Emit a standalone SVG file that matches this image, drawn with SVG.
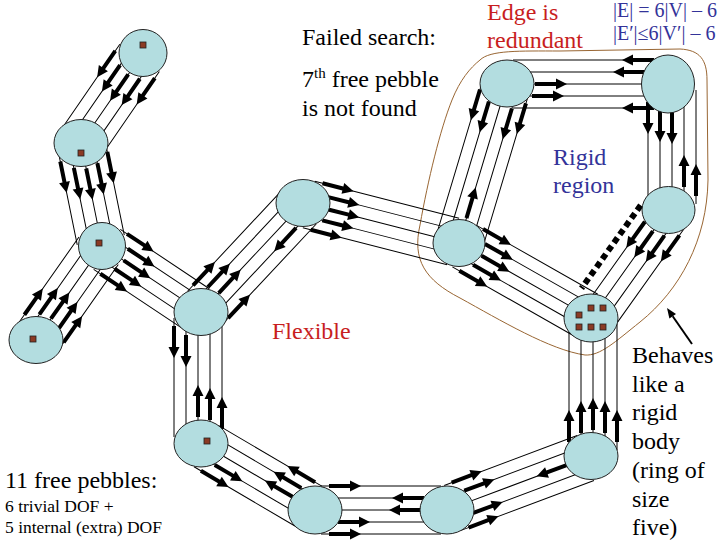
<svg xmlns="http://www.w3.org/2000/svg" xmlns:xlink="http://www.w3.org/1999/xlink" width="720" height="540" viewBox="0 0 720 540">
<style>
.ln{stroke:#000;stroke-width:1;fill:none}
.nd{fill:#B3DDE0;stroke:#222;stroke-width:1}
.pb{fill:#8B3A24;stroke:#222;stroke-width:0.8}
.t{font-family:"Liberation Serif","Times New Roman",serif;font-size:24px;fill:#000}
.red{fill:#C81E1E}
.blue{fill:#333399}
.eq{font-family:"Liberation Serif","Times New Roman",serif;font-size:20px;fill:#333399}
.sm{font-family:"Liberation Serif","Times New Roman",serif;font-size:17.5px;fill:#000}
.dot{stroke:#000;stroke-width:6;stroke-dasharray:6 4;fill:none}
</style>
<defs>
<path id="ar" d="M0,-2H21V-5.5L32,0L21,5.5V2H0Z" fill="#000"/>
</defs>
<path id="rigid-outline" d="M480,60 C490,50 520,51 560,51 L680,49 C700,50 707,60 707,80 L708,180 C707,240 680,290 640,322 C615,342 600,356 585,355 C550,350 500,320 460,298 C425,280 412,260 420,225 C428,180 440,130 452,100 C460,80 470,68 480,60 Z" fill="none" stroke="#996633" stroke-width="1"/>
<g id="connectors">
<g id="b1" transform="translate(143,53) rotate(124.56)">
<path class="ln" d="M6,-24H103M6,-12H103M6,0H103M6,12H103M6,24H103"/>
<use xlink:href="#ar" transform="translate(14,-24)"/><use xlink:href="#ar" transform="translate(23,-12)"/><use xlink:href="#ar" transform="translate(26,0)"/><use xlink:href="#ar" transform="translate(23,12)"/><use xlink:href="#ar" transform="translate(14,24)"/>
</g>
<g id="b2" transform="translate(81,143) rotate(78.48)">
<path class="ln" d="M6,-24H99M6,-12H99M6,0H99M6,12H99M6,24H99"/>
<use xlink:href="#ar" transform="translate(14,-24)"/><use xlink:href="#ar" transform="translate(23,-12)"/><use xlink:href="#ar" transform="translate(26,0)"/><use xlink:href="#ar" transform="translate(23,12)"/><use xlink:href="#ar" transform="translate(14,24)"/>
</g>
<g id="b3" transform="translate(36,340) rotate(-54.93)">
<path class="ln" d="M6,-24H109M6,-12H109M6,0H109M6,12H109M6,24H109"/>
<use xlink:href="#ar" transform="translate(14,-24)"/><use xlink:href="#ar" transform="translate(23,-12)"/><use xlink:href="#ar" transform="translate(26,0)"/><use xlink:href="#ar" transform="translate(23,12)"/><use xlink:href="#ar" transform="translate(14,24)"/>
</g>
<g id="b4" transform="translate(102,246) rotate(33.69)">
<path class="ln" d="M6,-24H113M6,-12H113M6,0H113M6,12H113M6,24H113"/>
<use xlink:href="#ar" transform="translate(14,-24)"/><use xlink:href="#ar" transform="translate(23,-12)"/><use xlink:href="#ar" transform="translate(26,0)"/><use xlink:href="#ar" transform="translate(23,12)"/><use xlink:href="#ar" transform="translate(14,24)"/>
</g>
<g id="b5" transform="translate(201,312) rotate(-46.9)">
<path class="ln" d="M6,-24H143M6,-12H143M6,0H143M6,12H143M6,24H143"/>
<use xlink:href="#ar" transform="translate(14,-24)"/><use xlink:href="#ar" transform="translate(23,-12)"/><use xlink:href="#ar" transform="translate(26,0)"/><use xlink:href="#ar" transform="translate(126.3,12) rotate(180)"/><use xlink:href="#ar" transform="translate(14,24)"/>
</g>
<g id="b6" transform="translate(303,203) rotate(14.38)">
<path class="ln" d="M6,-24H155M6,-12H155M6,0H155M6,12H155M6,24H155"/>
<use xlink:href="#ar" transform="translate(14,-24)"/><use xlink:href="#ar" transform="translate(23,-12)"/><use xlink:href="#ar" transform="translate(26,0)"/><use xlink:href="#ar" transform="translate(23,12)"/><use xlink:href="#ar" transform="translate(14,24)"/>
</g>
<g id="b7" transform="translate(507,83) rotate(106.7)">
<path class="ln" d="M6,-24H161M6,-12H161M6,0H161M6,12H161M6,24H161"/>
<use xlink:href="#ar" transform="translate(14,-24)"/><use xlink:href="#ar" transform="translate(23,-12)"/><use xlink:href="#ar" transform="translate(141,0) rotate(180)"/><use xlink:href="#ar" transform="translate(23,12)"/><use xlink:href="#ar" transform="translate(14,24)"/>
</g>
<g id="b8" transform="translate(507,84)">
<path class="ln" d="M6,-24H155M6,-12H155M6,0H155M6,12H155M6,24H155"/>
<use xlink:href="#ar" transform="translate(147,-24) rotate(180)"/><use xlink:href="#ar" transform="translate(138,-12) rotate(180)"/><use xlink:href="#ar" transform="translate(28,0)"/><use xlink:href="#ar" transform="translate(25,12)"/><use xlink:href="#ar" transform="translate(147,24) rotate(180)"/>
</g>
<g id="b9" transform="translate(672,84) rotate(90)">
<path class="ln" d="M6,-24H120M6,-12H120M6,0H120M6,12H120M6,24H120"/>
<use xlink:href="#ar" transform="translate(112,-24) rotate(180)"/><use xlink:href="#ar" transform="translate(103,-12) rotate(180)"/><use xlink:href="#ar" transform="translate(28,0)"/><use xlink:href="#ar" transform="translate(26,12)"/><use xlink:href="#ar" transform="translate(18,24)"/>
</g>
<g id="b10" transform="translate(668,210) rotate(125.48)">
<path class="ln" d="M6,-24H127M6,-12H127M6,0H127M6,12H127"/>
<path class="dot" d="M12,25H114"/>
<use xlink:href="#ar" transform="translate(14,-24)"/><use xlink:href="#ar" transform="translate(23,-12)"/><use xlink:href="#ar" transform="translate(26,0)"/><use xlink:href="#ar" transform="translate(23,12)"/>
</g>
<g id="b11" transform="translate(459,243) rotate(29.6)">
<path class="ln" d="M6,-24H146M6,-12H146M6,0H146M6,12H146M6,24H146"/>
<use xlink:href="#ar" transform="translate(14,-24)"/><use xlink:href="#ar" transform="translate(23,-12)"/><use xlink:href="#ar" transform="translate(26,0)"/><use xlink:href="#ar" transform="translate(23,12)"/><use xlink:href="#ar" transform="translate(14,24)"/>
</g>
<g id="b12" transform="translate(593,456) rotate(-90)">
<path class="ln" d="M6,-24H132M6,-12H132M6,0H132M6,12H132M6,24H132"/>
<use xlink:href="#ar" transform="translate(14,-24)"/><use xlink:href="#ar" transform="translate(23,-12)"/><use xlink:href="#ar" transform="translate(26,0)"/><use xlink:href="#ar" transform="translate(23,12)"/><use xlink:href="#ar" transform="translate(14,24)"/>
</g>
<g id="b13" transform="translate(447,510) rotate(-20.56)">
<path class="ln" d="M6,-24H148M6,-12H148M6,0H148M6,12H148M6,24H148"/>
<use xlink:href="#ar" transform="translate(14,-24)"/><use xlink:href="#ar" transform="translate(23,-12)"/><use xlink:href="#ar" transform="translate(127.8,0) rotate(180)"/><use xlink:href="#ar" transform="translate(23,12)"/><use xlink:href="#ar" transform="translate(14,24)"/>
</g>
<g id="b14" transform="translate(315,510)">
<path class="ln" d="M6,-24H126M6,-12H126M6,0H126M6,12H126M6,24H126"/>
<use xlink:href="#ar" transform="translate(14,-24)"/><use xlink:href="#ar" transform="translate(109,-12) rotate(180)"/><use xlink:href="#ar" transform="translate(106,0) rotate(180)"/><use xlink:href="#ar" transform="translate(23,12)"/><use xlink:href="#ar" transform="translate(14,24)"/>
</g>
<g id="b15" transform="translate(201,443) rotate(30.44)">
<path class="ln" d="M6,-24H126M6,-12H126M6,0H126M6,12H126M6,24H126"/>
<use xlink:href="#ar" transform="translate(118.2,-24) rotate(180)"/><use xlink:href="#ar" transform="translate(109.2,-12) rotate(180)"/><use xlink:href="#ar" transform="translate(106.2,0) rotate(180)"/><use xlink:href="#ar" transform="translate(23,12)"/><use xlink:href="#ar" transform="translate(14,24)"/>
</g>
<g id="b16" transform="translate(198,312) rotate(90)">
<path class="ln" d="M6,-24H125M6,-12H125M6,0H125M6,12H125M6,24H125"/>
<use xlink:href="#ar" transform="translate(117,-24) rotate(180)"/><use xlink:href="#ar" transform="translate(108,-12) rotate(180)"/><use xlink:href="#ar" transform="translate(105,0) rotate(180)"/><use xlink:href="#ar" transform="translate(23,12)"/><use xlink:href="#ar" transform="translate(14,24)"/>
</g>
</g>
<g id="n1"><ellipse class="nd" cx="143" cy="53" rx="24" ry="23.5"/><rect class="pb" x="140" y="42" width="6" height="6"/></g>
<g id="n2"><ellipse class="nd" cx="81" cy="143" rx="27" ry="23.5"/><rect class="pb" x="78" y="150" width="6" height="6"/></g>
<g id="n3"><ellipse class="nd" cx="102" cy="246" rx="23.5" ry="23.5"/><rect class="pb" x="96" y="240" width="6" height="6"/></g>
<g id="n4"><ellipse class="nd" cx="36" cy="340" rx="27" ry="23.5"/><rect class="pb" x="30" y="336" width="6" height="6"/></g>
<g id="n5"><ellipse class="nd" cx="201" cy="312" rx="27" ry="23.5"/></g>
<g id="n6"><ellipse class="nd" cx="303" cy="203" rx="27" ry="23.5"/></g>
<g id="n7"><ellipse class="nd" cx="459" cy="243" rx="26" ry="23.5"/></g>
<g id="n8"><ellipse class="nd" cx="507" cy="83.5" rx="27" ry="23.5"/></g>
<g id="n9"><ellipse class="nd" cx="668" cy="84" rx="26.5" ry="29"/></g>
<g id="n10"><ellipse class="nd" cx="668.5" cy="210" rx="26.5" ry="23.5"/></g>
<g id="n11"><ellipse class="nd" cx="591" cy="318" rx="27" ry="24"/>
<rect class="pb" x="576" y="312" width="6" height="6"/><rect class="pb" x="588" y="305" width="6" height="6"/><rect class="pb" x="600" y="305" width="6" height="6"/><rect class="pb" x="576" y="324" width="6" height="6"/><rect class="pb" x="588" y="324" width="6" height="6"/><rect class="pb" x="600" y="324" width="6" height="6"/></g>
<g id="n12"><ellipse class="nd" cx="591" cy="456" rx="27" ry="23.5"/></g>
<g id="n13"><ellipse class="nd" cx="447" cy="510" rx="27" ry="24"/></g>
<g id="n14"><ellipse class="nd" cx="315" cy="510" rx="27" ry="24"/></g>
<g id="n15"><ellipse class="nd" cx="201" cy="443.5" rx="27" ry="23.5"/><rect class="pb" x="204" y="438" width="6" height="6"/></g>
<g id="pointer"><line x1="692" y1="344" x2="672.7" y2="316.2" stroke="#000" stroke-width="2"/><polygon points="667,308 676,314 669.4,318.5" fill="#000"/></g>
<g id="labels">
<text class="t" x="302" y="45">Failed search:</text>
<text class="t" x="302" y="87">7<tspan font-size="15" dy="-9">th</tspan><tspan dy="9"> free pebble</tspan></text>
<text class="t" x="302" y="116">is not found</text>
<text class="t red" x="487" y="20">Edge is</text>
<text class="t red" x="487" y="48">redundant</text>
<text class="eq" x="613" y="17">|E| = 6|V| – 6</text>
<text class="eq" x="613" y="40">|E′|≤6|V′| – 6</text>
<text class="t blue" x="553" y="165">Rigid</text>
<text class="t blue" x="553" y="193">region</text>
<text class="t red" x="272" y="339">Flexible</text>
<text class="t" x="632" y="363">Behaves</text>
<text class="t" x="632" y="392">like a</text>
<text class="t" x="632" y="420">rigid</text>
<text class="t" x="632" y="449">body</text>
<text class="t" x="632" y="478">(ring of</text>
<text class="t" x="632" y="507">size</text>
<text class="t" x="632" y="535">five)</text>
<text class="t" x="5" y="488" font-size="23">11 free pebbles:</text>
<text class="sm" x="5" y="512">6 trivial DOF +</text>
<text class="sm" x="5" y="533" font-size="17">5 internal (extra) DOF</text>
</g>
</svg>
